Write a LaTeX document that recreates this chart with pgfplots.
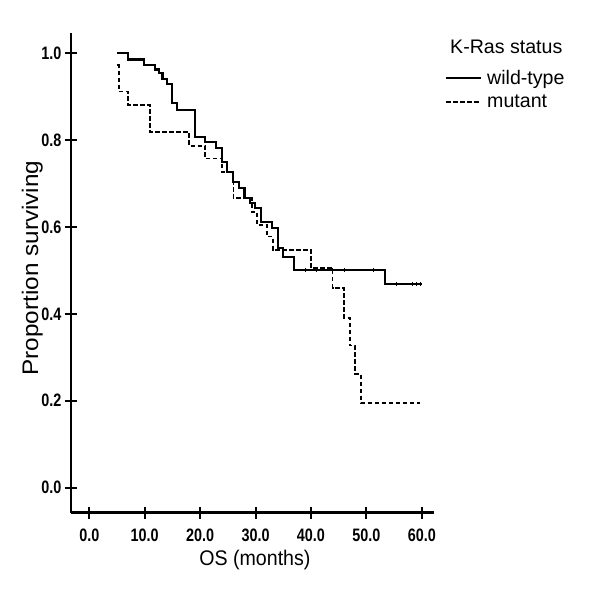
\documentclass[border=0pt]{standalone}
\usepackage{fontspec}
\setmainfont{Liberation Sans}
\usepackage{graphicx}
\usepackage{pgfplots}
\pgfplotsset{compat=1.18}

\newcommand\labfont{\fontsize{19.6}{23}\selectfont}
\newcommand\tickfont{\bfseries\fontsize{18}{20}\selectfont}

\begin{document}
\begin{tikzpicture}[x=1pt,y=1pt]
\path[use as bounding box] (0,0) rectangle (600,596);
\begin{axis}[
    at={(70.7pt,83.3pt)}, anchor=south west,
    scale only axis, width=363.3pt, height=479.7pt,
    xmin=-3.36, xmax=62.2, ymin=-0.058, ymax=1.047,
    axis x line=bottom, axis y line=left,
    axis line style={-, line width=2.4pt},
    xtick={0,10,20,30,40,50,60},
    ytick={0,0.2,0.4,0.6,0.8,1},
    tick align=center, major tick length=12pt,
    tick style={line width=2pt, black},
    minor tick num=0,
    /pgf/number format/assume math mode=true,
    xticklabel={\scalebox{0.8}[1]{\pgfmathprintnumber[fixed,fixed zerofill,precision=1]{\tick}}},
    yticklabel={\scalebox{0.8}[1]{\pgfmathprintnumber[fixed,fixed zerofill,precision=1]{\tick}}},
    ticklabel style={font=\tickfont, inner sep=0pt},
    xticklabel style={anchor=north, yshift=-10pt},
    yticklabel style={anchor=east, xshift=-3pt},
    xlabel={\scalebox{1}[1.08]{OS (months)}},
    xlabel style={at={(axis description cs:0.507,-0.111)}, anchor=base, inner sep=0pt, font=\labfont},
    ylabel={\scalebox{1.08}[1]{Proportion surviving}},
    ylabel style={at={(axis description cs:-0.09,0.51)}, anchor=base, inner sep=0pt, font=\fontsize{22.5}{26}\selectfont},
    legend style={at={(axis description cs:1.030,0.925)}, anchor=north west,
        draw=none, fill=none, inner sep=0pt, row sep=7pt, column sep=4pt,
        font=\labfont, nodes={inner sep=1pt}, cells={anchor=west}},
    legend image code/.code={\draw[#1] (0pt,0pt) -- (35pt,0pt);},
    clip=false,
]
% wild-type
\addplot[const plot, black, line width=2.1pt] coordinates {
(5.05,1.0) (6.9,0.986) (9.9,0.973) (11.9,0.963) (12.6,0.954) (13.2,0.942)
(14.0,0.929) (14.9,0.885) (15.9,0.869) (19.0,0.808) (20.9,0.796) (22.9,0.783)
(23.9,0.750) (24.9,0.726) (26.0,0.704) (27.0,0.689) (28.0,0.666) (29.0,0.655)
(29.9,0.643) (31.0,0.612) (32.9,0.597) (34.0,0.551) (35.0,0.532) (37.0,0.501)
(53.4,0.469) (60.0,0.469)
};
\addlegendentry{wild-type}
% mutant
\addplot[const plot, black, line width=1.8pt, dash pattern=on 4.5pt off 2.5pt] coordinates {
(5.05,0.973) (5.3,0.912) (7.0,0.881) (11.0,0.819) (18.0,0.787) (20.9,0.758)
(23.9,0.727) (26.0,0.666) (29.3,0.635) (30.2,0.605) (32.0,0.578) (33.1,0.547)
(40.0,0.505) (43.9,0.459) (46.0,0.391) (47.0,0.327) (48.0,0.261) (49.0,0.195)
(59.7,0.195)
};
\addlegendentry{mutant}
% censored observations
\addplot[only marks, mark=|, mark size=2pt, black, line width=1pt, forget plot] coordinates {
(39.1,0.501) (41.0,0.501) (43.9,0.501) (46.0,0.501) (51.2,0.501)
(55.5,0.469) (58.4,0.469) (59.0,0.469) (59.7,0.469)
};
\node[anchor=base west, inner sep=0pt, font=\labfont] at (axis description cs:1.044,0.9577) {K-Ras status};
\end{axis}
\end{tikzpicture}
\end{document}
